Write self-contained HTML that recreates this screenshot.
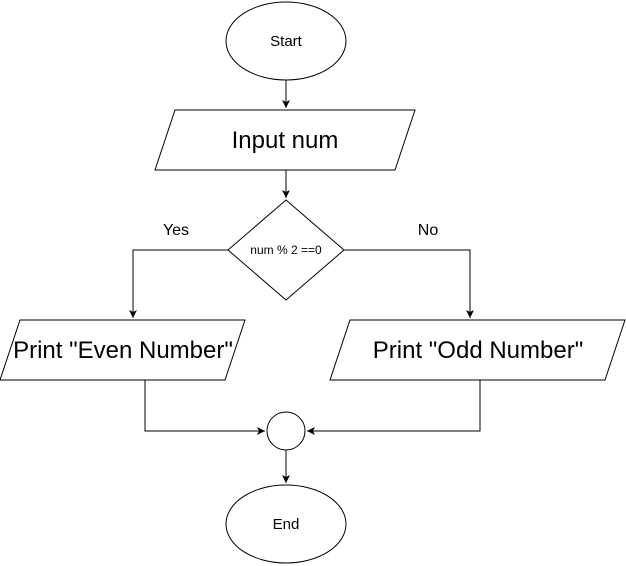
<!DOCTYPE html>
<html><head><meta charset="utf-8"><style>
html,body{margin:0;padding:0;background:#fff;}
svg{display:block;font-family:"Liberation Sans",Arial,sans-serif;}
</style></head><body>
<svg width="626" height="566" viewBox="0 0 626 566" xmlns="http://www.w3.org/2000/svg">
<defs><marker id="a" markerWidth="10" markerHeight="10" refX="9" refY="5" orient="auto" markerUnits="userSpaceOnUse"><path d="M1,1 L9,5 L1,9 L3,5 Z" fill="#000"/></marker></defs>
<g fill="#fff" stroke="#000" stroke-width="1">
<ellipse cx="286" cy="41" rx="60" ry="39"/>
<polygon points="175,110 415,110 395,170 155,170"/>
<polygon points="286,200 344,250 286,300 228,250"/>
<polygon points="20,320 245,320 225,380 0,380"/>
<polygon points="350,320 625,320 605,380 330,380"/>
<circle cx="286" cy="431" r="19"/>
<ellipse cx="286" cy="524" rx="60" ry="39"/>
</g>
<g fill="none" stroke="#000" stroke-width="1">
<path d="M286,80 V108" marker-end="url(#a)"/>
<path d="M286,170 V198" marker-end="url(#a)"/>
<path d="M228,250 H133 V318" marker-end="url(#a)"/>
<path d="M344,250 H470 V318" marker-end="url(#a)"/>
<path d="M145,380 V431 H265" marker-end="url(#a)"/>
<path d="M480,380 V431 H307" marker-end="url(#a)"/>
<path d="M286,450 V483" marker-end="url(#a)"/>
</g>
<g text-anchor="middle" fill="#000">
<text x="286" y="46" font-size="15">Start</text>
<text x="285" y="148" font-size="24">Input num</text>
<text x="286" y="254" font-size="12">num % 2 ==0</text>
<text x="176" y="235" font-size="16">Yes</text>
<text x="428" y="235" font-size="16">No</text>
<text x="123" y="358" font-size="24">Print "Even Number"</text>
<text x="478" y="358" font-size="24">Print "Odd Number"</text>
<text x="286" y="529" font-size="15">End</text>
</g>
</svg>
</body></html>
